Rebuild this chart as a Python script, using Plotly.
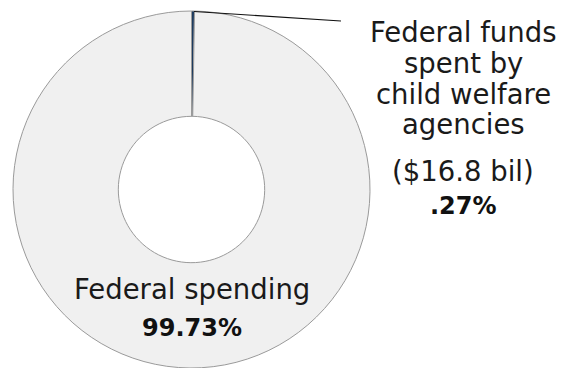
import plotly.graph_objects as go

labels = ["Federal funds spent by child welfare agencies", "Federal spending"]
values = [0.27, 99.73]
colors = ["#1d3b5f", "#f0f0f0"]
small_label_lines = ["Federal funds", "spent by", "child welfare", "agencies", "($16.8 bil)"]
small_pct = ".27%"
big_label = "Federal spending"
big_pct = "99.73%"

W, H = 562, 368
cx, cy, R = 191.5, 189.5, 178.5

def px(x):
    return x / W

def py(y):
    return 1 - y / H

fig = go.Figure(go.Pie(
    labels=labels, values=values, sort=False, direction="clockwise", rotation=0,
    hole=0.41, textinfo="none", hoverinfo="label+percent",
    marker=dict(colors=colors, line=dict(color="#9a9a9a", width=1)),
    domain=dict(x=[px(cx - R), px(cx + R)], y=[py(cy + R), py(cy - R)]),
    showlegend=False,
))

FONT = "DejaVu Sans"
REG = 27.5
BOLD = 24
tc = 463
line_y = [32, 63, 94, 124, 171]
ann = []
for t, yy in zip(small_label_lines, line_y):
    ann.append(dict(text=t, x=px(tc), y=py(yy), xref="paper", yref="paper", showarrow=False,
                    font=dict(family=FONT, size=REG, color="#1a1a1a"), xanchor="center", yanchor="middle"))
ann.append(dict(text="<b>" + small_pct + "</b>", x=px(tc), y=py(206), xref="paper", yref="paper", showarrow=False,
                font=dict(family=FONT, size=BOLD, color="#111111"), xanchor="center", yanchor="middle"))
ann.append(dict(text=big_label, x=px(cx), y=py(289), xref="paper", yref="paper", showarrow=False,
                font=dict(family=FONT, size=REG, color="#1a1a1a"), xanchor="center", yanchor="middle"))
ann.append(dict(text="<b>" + big_pct + "</b>", x=px(cx), y=py(328), xref="paper", yref="paper", showarrow=False,
                font=dict(family=FONT, size=BOLD, color="#111111"), xanchor="center", yanchor="middle"))

fig.update_layout(
    width=W, height=H, margin=dict(l=0, r=0, t=0, b=0),
    paper_bgcolor="white", plot_bgcolor="white",
    annotations=ann,
    shapes=[dict(type="line", xref="paper", yref="paper", x0=px(194), y0=py(11.5), x1=px(341), y1=py(21),
                 line=dict(color="#111111", width=1.2))],
)

fig.write_html("out.html")
